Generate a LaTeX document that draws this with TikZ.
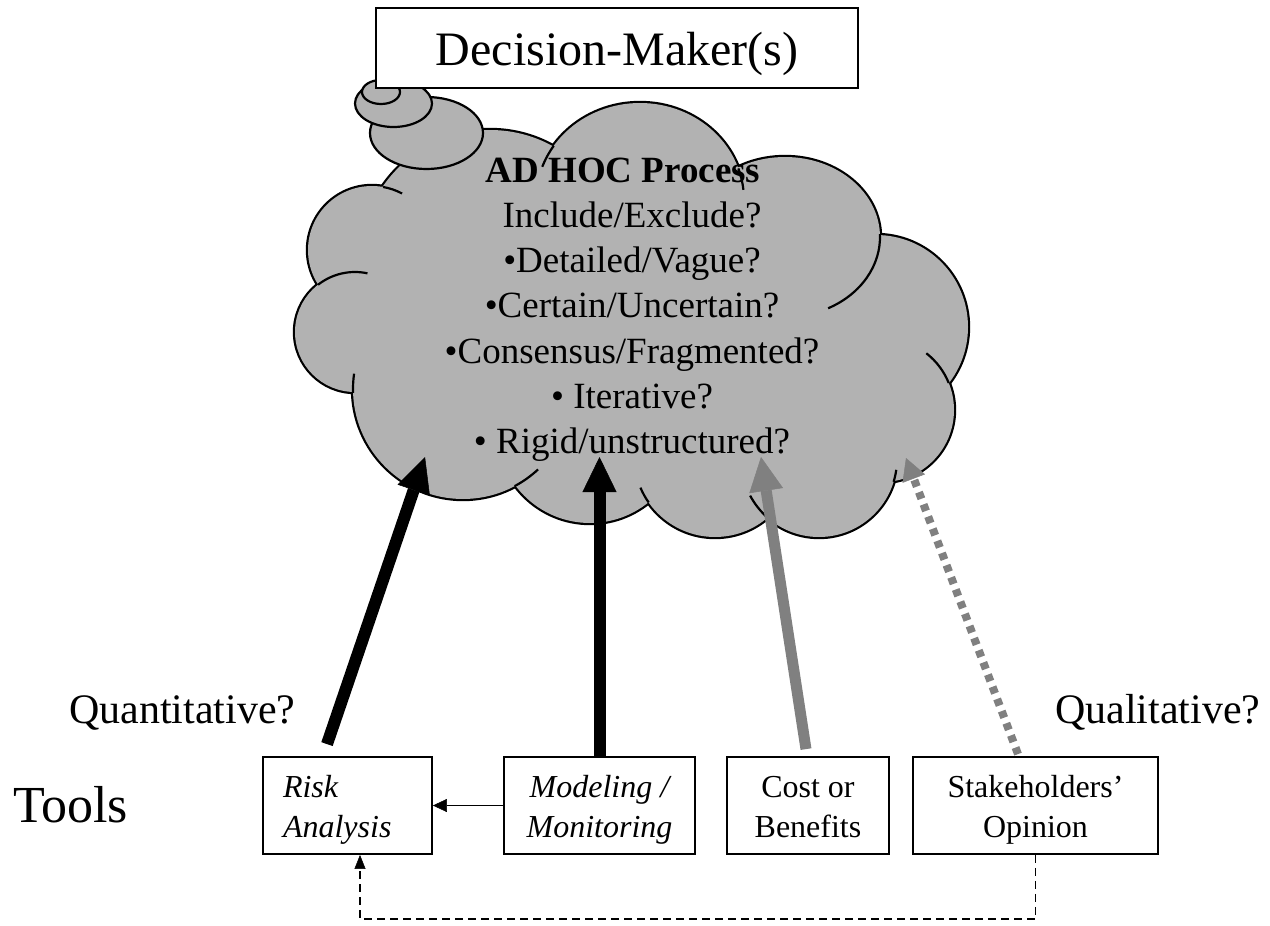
\documentclass[tikz,border=0pt]{standalone}
\usepackage{fontspec}
\setmainfont{Liberation Serif}
\usetikzlibrary{arrows.meta,calc}
\definecolor{cloudgray}{RGB}{178,178,178}
\definecolor{arrgray}{RGB}{128,128,128}
\newcommand{\myTop}{\rule{0pt}{31pt}}
\newcommand{\myBot}{\rule[-8pt]{0pt}{8pt}}
\begin{document}
\begin{tikzpicture}[x=1pt,y=-1pt,
  cloudline/.style={line width=2.2pt},
  tailell/.style={line width=2.2pt,draw=black,fill=cloudgray},
  cloudtxt/.style={anchor=base,inner sep=0pt,font=\fontsize{37pt}{45pt}\selectfont},
  bigtxt/.style={anchor=base west,inner sep=0pt,font=\fontsize{42pt}{50pt}\selectfont},
  toolbox/.style={draw,line width=1.8pt,minimum height=97pt,inner sep=0pt,align=center,font=\fontsize{32pt}{40pt}\selectfont},
  bigarrow/.style={line width=12pt,-{Triangle[length=35pt,width=34pt,line width=0.5pt]}},
  grayarrow/.style={arrgray,line width=11pt,-{Triangle[length=34pt,width=34pt,line width=0.5pt]}},
  dotarrow/.style={arrgray,line width=8pt,dash pattern=on 7pt off 6pt,-{Triangle[length=22pt,width=24pt,line width=0.5pt]}},
  thinarrow/.style={line width=1.8pt,-{Triangle[length=14pt,width=13pt,line width=0.5pt]}},
  dashconn/.style={line width=1.5pt,dash pattern=on 8pt off 5pt,-{Triangle[length=14pt,width=11pt,line width=0.5pt]}}
]
\useasboundingbox (0,0) rectangle (1270,926);

% ---- cloud body (union of bumps) ----
\foreach \cx/\cy/\rx/\ry in {640/200/104/97, 785/237/95/80, 876/327/92/92, 882/410/72/72, 819/459/78/78, 715/456/81/81, 590/430/93/93, 463/389/110/110, 355/332/60/60, 372/250/64/64, 490/260/130/130}
  \draw[line width=4.4pt] (\cx,\cy) ellipse[x radius=\rx, y radius=\ry];
\foreach \cx/\cy/\rx/\ry in {640/200/104/97, 785/237/95/80, 876/327/92/92, 882/410/72/72, 819/459/78/78, 715/456/81/81, 590/430/93/93, 463/389/110/110, 355/332/60/60, 372/250/64/64, 490/260/130/130}
  \fill[cloudgray] (\cx,\cy) ellipse[x radius=\rx, y radius=\ry];
\fill[cloudgray] (640,200) -- (785,237) -- (876,327) -- (882,410) -- (819,459) -- (715,456) -- (590,430) -- (463,389) -- (355,332) -- (372,250) -- (490,260) -- cycle;

% ---- inner hooks of the cloud ----
\foreach \cx/\cy/\rx/\ry/\a/\b in {640/200/104/97/-146/-160, 640/200/104/97/-19/-6, 785/237/95/80/-2/63, 882/410/72/72/-22/-52, 819/459/78/78/17/8, 819/459/78/78/-229/-208, 715/456/81/81/-215/-203, 463/389/110/110/62/47, 463/389/110/110/-182/-172, 355/332/60/60/-128/-78, 372/250/64/64/-80/-62}
  \draw[cloudline] (\cx,\cy) ++({\a}:{\rx} and {\ry}) arc[start angle=\a, end angle=\b, x radius=\rx, y radius=\ry];

% ---- cloud text ----
\node[cloudtxt] (l1) at (623,182) {\textbf{AD HOC Process}};
\node[cloudtxt] (l2) at (632,227) {Include/Exclude?};
\node[cloudtxt] (l3) at (632,272) {•Detailed/Vague?};
\node[cloudtxt] (l4) at (632,317) {•Certain/Uncertain?};
\node[cloudtxt] (l5) at (632,363) {•Consensus/Fragmented?};
\node[cloudtxt] (l6) at (632,408) {• Iterative?};
\node[cloudtxt] (l7) at (632,453) {• Rigid/unstructured?};

% ---- thought bubbles ----
\draw[tailell] (426.5,133) ellipse[x radius=56.5, y radius=36];
\draw[tailell] (393.5,103.5) ellipse[x radius=38.5, y radius=23.5];
\draw[tailell] (381,92) ellipse[x radius=19, y radius=12];

% ---- decision maker box ----
\node[draw,line width=1.8pt,fill=white,minimum width=482pt,minimum height=80pt,inner sep=0pt,
      font=\fontsize{48pt}{58pt}\selectfont,text height=40pt,text depth=6pt] (dm) at (617,48) {Decision-Maker(s)};

% ---- side labels ----
\node[bigtxt] (quant) at (69,723) {Quantitative?};
\node[bigtxt] (qual) at (1055,723) {Qualitative?};
\node[anchor=base west,inner sep=0pt,font=\fontsize{52pt}{60pt}\selectfont] (tools) at (13,822) {Tools};

% ---- tool boxes ----
\node[toolbox,minimum width=169pt,text width=129pt,align=left,font=\fontsize{32pt}{40pt}\selectfont\itshape] (risk) at (347.5,805.5) {\myTop Risk\\Analysis\myBot};
\node[toolbox,minimum width=191pt,font=\fontsize{32pt}{40pt}\selectfont\itshape] (model) at (599.5,805.5) {\myTop Modeling /\\Monitoring\myBot};
\node[toolbox,minimum width=162pt] (cost) at (808,805.5) {\myTop Cost or\\Benefits\myBot};
\node[toolbox,minimum width=245pt] (stake) at (1035.5,805.5) {\myTop Stakeholders’\\Opinion\myBot};

% ---- arrow targets in the cloud ----
\coordinate (tA) at (425,457);
\coordinate (tB) at (599.5,457);
\coordinate (tC) at (761,457);
\coordinate (tD) at (906,458);
\coordinate (dcorner) at (1035.5,919);

% ---- connectors ----
\draw[bigarrow] ([xshift=-20.5pt,yshift=12pt]risk.north) -- (tA);
\draw[bigarrow] (model.north) -- (tB);
\draw[grayarrow] ([xshift=-2pt,yshift=7pt]cost.north) -- (tC);
\draw[dotarrow] ([xshift=-17.5pt,yshift=2pt]stake.north) -- (tD);
\draw[thinarrow] (model.west) -- (risk.east);
\draw[dashconn] (stake.south) -- (dcorner) -| ([xshift=12.5pt]risk.south);
\end{tikzpicture}
\end{document}
